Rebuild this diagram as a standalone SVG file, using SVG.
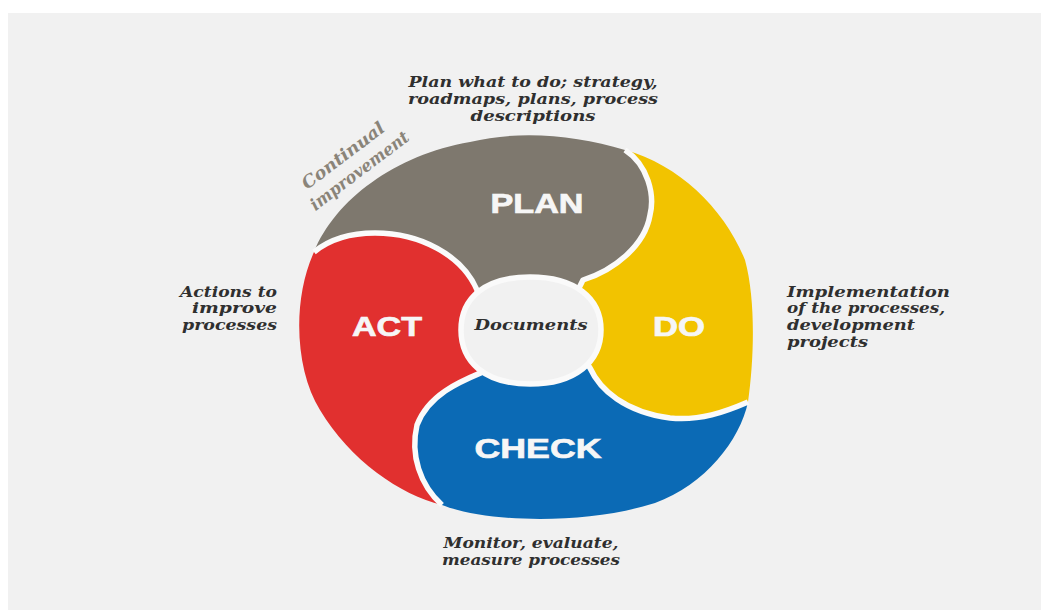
<svg xmlns="http://www.w3.org/2000/svg" width="1041" height="611" viewBox="0 0 1041 611">
<style>
.gap{fill:none;stroke:#fafafa;stroke-width:5.5;stroke-linejoin:round;stroke-linecap:butt}
.big{font-family:"Liberation Sans",Arial,sans-serif;font-weight:bold;font-size:28px;fill:#f6f6f6;stroke:#f6f6f6;stroke-width:0.7;text-anchor:middle}
.note{font-family:"DejaVu Serif","Liberation Serif",serif;font-weight:bold;font-style:italic;font-size:15px;fill:#2f2f2f}
.cont{font-family:"DejaVu Serif","Liberation Serif",serif;font-weight:bold;font-style:italic;font-size:17px;fill:#8a8479}
</style>
<rect x="0" y="0" width="1041" height="611" fill="#ffffff"/>
<rect x="8" y="13" width="1033" height="597" fill="#f1f1f1"/>

<g id="plan">
<path fill="#7e786e" d="M314 252 C335 200 395 155 470 142 C520 130 575 135 625 150 C648 165 655 195 650 215 C645 245 615 270 583 280 L578 290 L530 330 L480 310 L477 290 C462 255 420 233 375 233 C345 233 325 243 314 252 Z"/>
</g>

<g id="do">
<path fill="#f2c300" d="M625 150 C680 165 725 210 745 260 C756 300 754 360 748 402 C725 412 700 421 670 418 C625 412 600 390 590 368 L585 360 L530 330 L578 290 L583 280 C615 270 645 245 650 215 C655 195 648 165 625 150 Z"/>
</g>

<g id="check">
<path fill="#0b6ab5" d="M748 402 C740 440 705 485 655 503 C620 514 580 519 540 519 C500 519 465 514 442 505 C420 485 410 455 417 425 C430 390 470 378 492 368 L530 330 L585 360 L590 368 C600 390 625 412 670 418 C700 421 725 412 748 402 Z"/>
</g>

<g id="act">
<path fill="#e1302f" d="M314 252 C325 243 345 233 375 233 C420 233 462 255 477 290 L480 310 L530 330 L492 368 C470 378 430 390 417 425 C410 455 420 485 442 505 C400 495 350 460 320 410 C295 370 292 300 314 252 Z"/>
</g>

<g id="connectors">
<path class="gap" d="M314 252 C325 243 345 233 375 233 C420 233 462 255 477 290 L480 310"/>
<path class="gap" d="M625 150 C648 165 655 195 650 215 C645 245 615 270 583 280 L578 290"/>
<path class="gap" d="M748 402 C725 412 700 421 670 418 C625 412 600 390 590 368 L585 360"/>
<path class="gap" d="M492 368 C470 378 430 390 417 425 C410 455 420 485 442 505"/>
</g>

<g id="documents">
<path class="gap" style="fill:#f1f1f1" d="M530 277 C575 277 601 298 601 330 C601 362 575 384 530 384 C485 384 461 362 461 330 C461 298 485 277 530 277 Z"/>
<text class="note" x="531" y="330" font-size="16" text-anchor="middle" textLength="113" lengthAdjust="spacingAndGlyphs">Documents</text>
</g>

<g id="labels">
<text class="big" x="537" y="213" textLength="93" lengthAdjust="spacingAndGlyphs">PLAN</text>
<text class="big" x="679" y="336" textLength="52" lengthAdjust="spacingAndGlyphs">DO</text>
<text class="big" x="538" y="458" textLength="127" lengthAdjust="spacingAndGlyphs">CHECK</text>
<text class="big" x="387" y="336" textLength="70" lengthAdjust="spacingAndGlyphs">ACT</text>
</g>

<g id="continual" transform="translate(307,190) rotate(-37)">
<text class="cont" x="0" y="0" textLength="99" lengthAdjust="spacingAndGlyphs">Continual</text>
<text class="cont" x="-6" y="22" textLength="119" lengthAdjust="spacingAndGlyphs">improvement</text>
</g>

<g id="plan-note" class="note" text-anchor="middle" font-size="16">
<text x="533" y="87" textLength="249" lengthAdjust="spacingAndGlyphs">Plan what to do; strategy,</text>
<text x="533" y="104" textLength="250" lengthAdjust="spacingAndGlyphs">roadmaps, plans, process</text>
<text x="533" y="121" textLength="125" lengthAdjust="spacingAndGlyphs">descriptions</text>
</g>

<g id="act-note" class="note" text-anchor="end">
<text x="277" y="297" textLength="97" lengthAdjust="spacingAndGlyphs">Actions to</text>
<text x="277" y="313" textLength="85" lengthAdjust="spacingAndGlyphs">improve</text>
<text x="277" y="330" textLength="95" lengthAdjust="spacingAndGlyphs">processes</text>
</g>

<g id="do-note" class="note">
<text x="787" y="297" textLength="163" lengthAdjust="spacingAndGlyphs">Implementation</text>
<text x="787" y="313" textLength="158" lengthAdjust="spacingAndGlyphs">of the processes,</text>
<text x="787" y="330" textLength="128" lengthAdjust="spacingAndGlyphs">development</text>
<text x="787" y="347" textLength="81" lengthAdjust="spacingAndGlyphs">projects</text>
</g>

<g id="check-note" class="note" text-anchor="middle">
<text x="531" y="548" textLength="175" lengthAdjust="spacingAndGlyphs">Monitor, evaluate,</text>
<text x="531" y="565" textLength="178" lengthAdjust="spacingAndGlyphs">measure processes</text>
</g>
</svg>
